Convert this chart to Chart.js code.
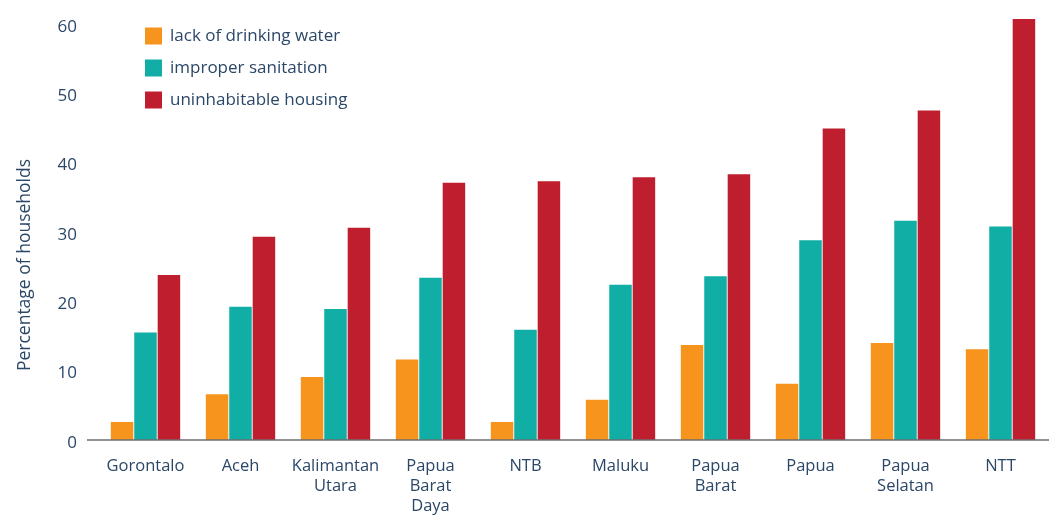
<!DOCTYPE html>
<html>
<head>
<meta charset="utf-8">
<script src="https://cdn.jsdelivr.net/npm/chart.js@4"></script>
<style>
  html, body { margin: 0; padding: 0; background: #fff; }
  #wrap { width: 1049px; height: 519px; }
</style>
</head>
<body>
<div id="wrap"><canvas id="chart" width="1049" height="519"></canvas></div>
<script>
var categories = [
    ["Gorontalo"], ["Aceh"], ["Kalimantan", "Utara"], ["Papua", "Barat", "Daya"], ["NTB"],
    ["Maluku"], ["Papua", "Barat"], ["Papua"], ["Papua", "Selatan"], ["NTT"]
];
var drinkingWater = [2.6, 6.6, 9.1, 11.6, 2.6, 5.8, 13.7, 8.1, 14.0, 13.1];
var sanitation = [15.5, 19.2, 18.9, 23.4, 15.9, 22.4, 23.6, 28.8, 31.6, 30.8];
var housing = [23.8, 29.3, 30.6, 37.1, 37.3, 37.9, 38.3, 44.9, 47.5, 60.7];
var yTicks = [0, 10, 20, 30, 40, 50, 60];

var textColor = "#2b4768";
var fontFamily = "'Open Sans', sans-serif";

// legend, y title and the baseline are drawn by hand
var extras = {
    id: "extras",
    afterDraw: function (chart) {
        var ctx = chart.ctx;
        var area = chart.chartArea;
        var y0 = chart.scales.y.getPixelForValue(0);
        ctx.save();
        ctx.strokeStyle = "#6d6e71";
        ctx.lineWidth = 1.5;
        ctx.beginPath();
        ctx.moveTo(87, y0);
        ctx.lineTo(area.right + 1, y0);
        ctx.stroke();

        ctx.font = "17px " + fontFamily;
        ctx.textBaseline = "middle";
        ctx.textAlign = "left";
        chart.data.datasets.forEach(function (ds, i) {
            var cy = 36 + i * 32;
            ctx.fillStyle = ds.backgroundColor;
            ctx.fillRect(145, cy - 8.5, 17, 17);
            ctx.fillStyle = textColor;
            ctx.fillText(ds.label, 170, cy);
        });

        ctx.font = "17.5px " + fontFamily;
        ctx.translate(25, 265);
        ctx.rotate(-Math.PI / 2);
        ctx.textAlign = "center";
        ctx.fillText("Percentage of households", 0, 0);
        ctx.restore();
    }
};

var ctx = document.getElementById("chart").getContext("2d");
var chart = new Chart(ctx, {
    type: "bar",
    data: {
        labels: categories,
        datasets: [{
            label: "lack of drinking water",
            data: drinkingWater,
            backgroundColor: "#f7941e"
        }, {
            label: "improper sanitation",
            data: sanitation,
            backgroundColor: "#11aea6"
        }, {
            label: "uninhabitable housing",
            data: housing,
            backgroundColor: "#be1e2d"
        }]
    },
    options: {
        responsive: false,
        animation: false,
        layout: { padding: { top: 10, right: 1, left: 0, bottom: 0 } },
        datasets: {
            bar: { categoryPercentage: 0.74, barPercentage: 0.96 }
        },
        plugins: {
            legend: { display: false },
            tooltip: { enabled: false }
        },
        scales: {
            x: {
                grid: { display: false, drawTicks: false },
                border: { display: false },
                ticks: {
                    color: textColor,
                    font: { family: fontFamily, size: 16.5, lineHeight: 1.22 },
                    padding: 16,
                    maxRotation: 0,
                    autoSkip: false
                },
                afterFit: function (scale) {
                    scale.height = 79;
                    scale.paddingLeft = 0;
                    scale.paddingRight = 0;
                }
            },
            y: {
                min: 0,
                max: 62,
                grid: { display: false, drawTicks: false },
                border: { display: false },
                ticks: {
                    stepSize: 10,
                    color: textColor,
                    font: { family: fontFamily, size: 17 },
                    padding: 21,
                    labelOffset: 3
                },
                afterBuildTicks: function (scale) {
                    scale.ticks = yTicks.map(function (v) { return { value: v }; });
                },
                afterFit: function (scale) {
                    scale.width = 98;
                    scale.paddingTop = 0;
                    scale.paddingBottom = 0;
                }
            }
        }
    },
    plugins: [extras]
});
</script>
</body>
</html>
